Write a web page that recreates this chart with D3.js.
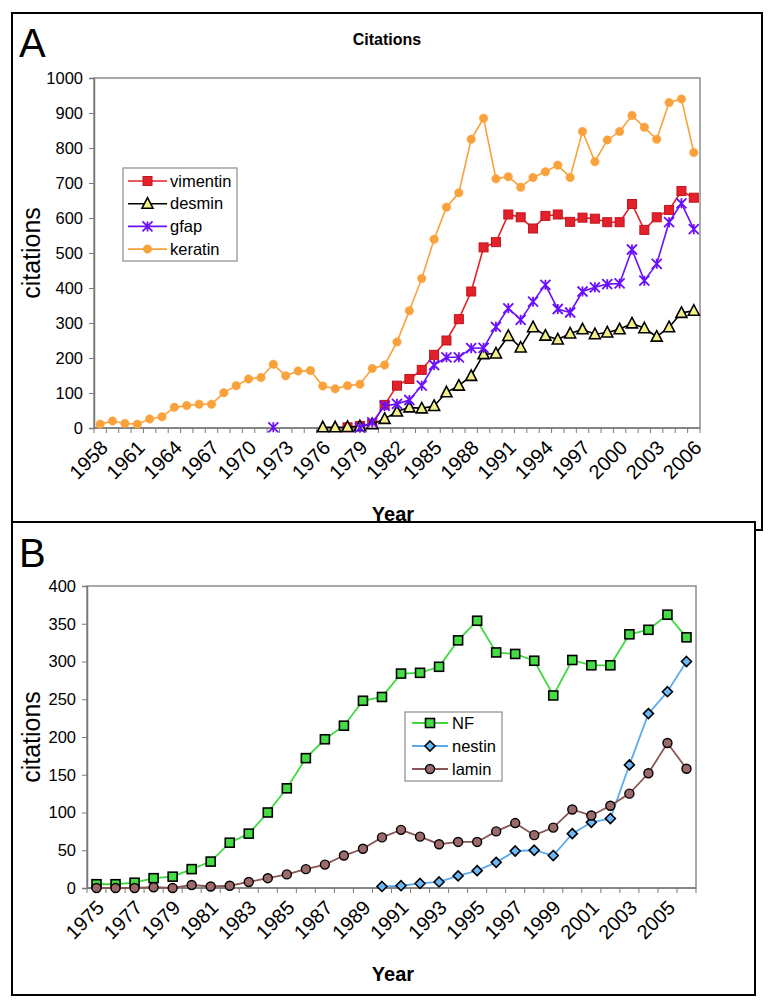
<!DOCTYPE html>
<html><head><meta charset="utf-8">
<script src="https://cdn.jsdelivr.net/npm/d3@7"></script>
<style>
html,body{margin:0;padding:0;background:#fff;}
svg text{font-family:"Liberation Sans",Arial,sans-serif;}
</style></head>
<body>
<svg id="c" width="771" height="1001"></svg>
<script>
// ---------- Panel A data ----------
const yearsA = [1958,1959,1960,1961,1962,1963,1964,1965,1966,1967,1968,1969,1970,1971,1972,1973,1974,1975,1976,1977,1978,1979,1980,1981,1982,1983,1984,1985,1986,1987,1988,1989,1990,1991,1992,1993,1994,1995,1996,1997,1998,1999,2000,2001,2002,2003,2004,2005,2006];
const tickLabelsA = ["1958","1961","1964","1967","1970","1973","1976","1979","1982","1985","1988","1991","1994","1997","2000","2003","2006"];
const yTicksA = [0,100,200,300,400,500,600,700,800,900,1000];
const N = null;
const vimentin = [N,N,N,N,N,N,N,N,N,N, N,N,N,N,N,N,N,N,N,N, 2,6,12,66,121,140,166,209,250,311, 390,516,531,610,602,570,606,610,589,601, 598,588,588,640,566,602,623,677,658];
const desmin = [N,N,N,N,N,N,N,N,N,N, N,N,N,N,N,N,N,N,2,2, 3,5,11,26,47,59,56,63,102,121, 149,211,213,263,230,288,264,253,270,282, 268,273,282,299,285,261,288,329,335];
const gfap = [N,N,N,N,N,N,N,N,N,N, N,N,N,N,2,N,N,N,N,N, N,1,16,63,69,80,121,180,202,202, 228,229,289,342,309,361,409,340,330,390, 402,411,413,510,421,469,588,642,568];
const keratin = [11,20,13,11,26,32,59,64,68,68, 101,121,140,144,182,149,163,164,120,112, 121,125,170,180,246,335,427,539,631,672, 825,885,712,718,688,716,732,751,716,847, 761,823,847,893,859,825,930,940,787];
const seriesNamesA = ["vimentin","desmin","gfap","keratin"];

// ---------- Panel B data ----------
const yearsB = [1975,1976,1977,1978,1979,1980,1981,1982,1983,1984,1985,1986,1987,1988,1989,1990,1991,1992,1993,1994,1995,1996,1997,1998,1999,2000,2001,2002,2003,2004,2005,2006];
const tickLabelsB = ["1975","1977","1979","1981","1983","1985","1987","1989","1991","1993","1995","1997","1999","2001","2003","2005"];
const yTicksB = [0,50,100,150,200,250,300,350,400];
const NF = [5,5,7,13,15,25,35,60,72,100, 132,172,197,215,248,253,284,285,293,328, 354,312,310,301,255,302,295,295,336,342, 362,332];
const nestin = [N,N,N,N,N,N,N,N,N,N, N,N,N,N,N,2,3,6,8,16, 23,34,49,50,43,72,87,92,163,231, 260,300];
const lamin = [0,0,0,1,0,4,2,3,8,13, 18,25,31,43,52,67,77,68,58,61, 61,75,86,70,80,104,96,109,125,152, 192,158];
const seriesNamesB = ["NF","nestin","lamin"];

const svg = d3.select("#c");
const FONT = '"Liberation Sans",Arial,sans-serif';

function marker(g, type, style, size){
  const s = size;
  if(type==="square"){
    g.append("rect").attr("x",-s/2).attr("y",-s/2).attr("width",s).attr("height",s)
      .attr("fill",style.fill).attr("stroke",style.stroke).attr("stroke-width",style.sw);
  } else if(type==="triangle"){
    g.append("path").attr("d",`M0,${-s*0.6}L${s*0.55},${s*0.45}L${-s*0.55},${s*0.45}Z`)
      .attr("fill",style.fill).attr("stroke",style.stroke).attr("stroke-width",style.sw);
  } else if(type==="star"){
    const h=s/2;
    g.append("path").attr("d",`M${-h},${-h}L${h},${h}M${-h},${h}L${h},${-h}M0,${-h}L0,${h}`)
      .attr("fill","none").attr("stroke",style.stroke).attr("stroke-width",style.sw);
  } else if(type==="circle"){
    g.append("circle").attr("r",s/2).attr("fill",style.fill).attr("stroke",style.stroke).attr("stroke-width",style.sw);
  } else if(type==="diamond"){
    const h=s/2+0.5;
    g.append("path").attr("d",`M0,${-h}L${h},0L0,${h}L${-h},0Z`)
      .attr("fill",style.fill).attr("stroke",style.stroke).attr("stroke-width",style.sw);
  }
}

function panel(cfg){
  const g = svg.append("g");
  g.append("rect").attr("x",cfg.frame[0]).attr("y",cfg.frame[1])
    .attr("width",cfg.frame[2]-cfg.frame[0]).attr("height",cfg.frame[3]-cfg.frame[1])
    .attr("fill","#fff").attr("stroke","#000").attr("stroke-width",2);
  const x = d3.scaleBand().domain(cfg.years).range([cfg.x0,cfg.x1]).padding(0);
  const y = d3.scaleLinear().domain([0,cfg.ymax]).range([cfg.yb,cfg.yt]);
  const bw = x.bandwidth();
  const cx = d => x(d)+bw/2;
  g.append("rect").attr("x",cfg.x0).attr("y",cfg.yt).attr("width",cfg.x1-cfg.x0).attr("height",cfg.yb-cfg.yt)
    .attr("fill","none").attr("stroke","#8c8c8c").attr("stroke-width",1.5);
  const ya = d3.axisLeft(y).tickValues(cfg.yTicks).tickSize(5).tickPadding(6).tickFormat(d3.format("d"));
  const yg = g.append("g").attr("transform",`translate(${cfg.x0},0)`).call(ya);
  yg.select(".domain").attr("stroke","#7a7a7a").attr("stroke-width",1.5);
  yg.selectAll(".tick line").attr("stroke","#7a7a7a");
  yg.selectAll("text").attr("font-size",16.5).attr("fill","#000").style("font-family",FONT);
  g.append("line").attr("x1",cfg.x0).attr("x2",cfg.x1).attr("y1",cfg.yb).attr("y2",cfg.yb)
    .attr("stroke","#7a7a7a").attr("stroke-width",1.5);
  const bounds = cfg.years.map(d=>x(d)).concat([x(cfg.years[cfg.years.length-1])+bw]);
  g.selectAll(".xt").data(bounds).enter().append("line")
    .attr("x1",d=>d).attr("x2",d=>d).attr("y1",cfg.yb).attr("y2",cfg.yb+5)
    .attr("stroke","#7a7a7a").attr("stroke-width",1);
  g.selectAll(".xl").data(cfg.tickLabels).enter().append("text")
    .attr("transform",d=>`translate(${cx(+d)+4},${cfg.yb+16}) rotate(-45)`)
    .attr("text-anchor","end").attr("dy","0.35em").attr("font-size",20).text(d=>d);
  g.append("text").attr("x",cfg.yearX).attr("y",cfg.yearY).attr("text-anchor","middle")
    .attr("font-size",20).attr("font-weight","bold").text("Year");
  g.append("text").attr("transform",`translate(${cfg.ylabX},${(cfg.yt+cfg.yb)/2}) rotate(-90)`)
    .attr("text-anchor","middle").attr("font-size",25).text("citations");
  g.append("text").attr("x",cfg.frame[0]+7).attr("y",cfg.letterY).attr("font-size",40).text(cfg.letter);
  cfg.series.forEach(s=>{
    const pts = cfg.years.map((yr,i)=>({yr, v:s.values[i]}));
    const line = d3.line().defined(d=>d.v!==null).x(d=>cx(d.yr)).y(d=>y(d.v));
    g.append("path").datum(pts).attr("d",line).attr("fill","none")
      .attr("stroke",s.line).attr("stroke-width",s.lw);
    pts.filter(d=>d.v!==null).forEach(d=>{
      const mg = g.append("g").attr("transform",`translate(${cx(d.yr)},${y(d.v)})`);
      marker(mg, s.type, s.style, s.size);
    });
  });
  const L = cfg.legend;
  g.append("rect").attr("x",L.x).attr("y",L.y).attr("width",L.w).attr("height",L.h)
    .attr("fill","#fff").attr("stroke","#8c8c8c").attr("stroke-width",1.2);
  cfg.series.forEach((s,i)=>{
    const yy = L.y0 + i*L.dy;
    g.append("line").attr("x1",L.lx0).attr("x2",L.lx1).attr("y1",yy).attr("y2",yy)
      .attr("stroke",s.line).attr("stroke-width",s.lw);
    const mg = g.append("g").attr("transform",`translate(${(L.lx0+L.lx1)/2},${yy})`);
    marker(mg, s.type, s.style, s.size);
    g.append("text").attr("x",L.tx).attr("y",yy).attr("dy","0.35em").attr("font-size",16.5).text(s.name);
  });
  return g;
}

const colorsA = {vimentin:"#e3212b", desmin:"#000000", gfap:"#6a10ff", keratin:"#f9a23c"};
panel({
  frame:[12,13,762,530], x0:94, x1:700, yt:78, yb:428, ymax:1000,
  years:yearsA, tickLabels:tickLabelsA, yTicks:yTicksA,
  yearX:393, yearY:521, ylabX:40, letter:"A", letterY:57,
  legend:{x:123,y:168,w:114,h:93,y0:181,dy:22.7,lx0:128,lx1:167,tx:170},
  series:[
    {name:seriesNamesA[0], values:vimentin, line:colorsA.vimentin, lw:1.6, type:"square", size:9, style:{fill:"#e3212b",stroke:"#c0141e",sw:1}},
    {name:seriesNamesA[1], values:desmin, line:colorsA.desmin, lw:1.6, type:"triangle", size:10, style:{fill:"#f3f08a",stroke:"#000",sw:1.6}},
    {name:seriesNamesA[2], values:gfap, line:colorsA.gfap, lw:1.6, type:"star", size:10, style:{stroke:colorsA.gfap,sw:1.8}},
    {name:seriesNamesA[3], values:keratin, line:colorsA.keratin, lw:1.6, type:"circle", size:8.5, style:{fill:"#f9a23c",stroke:"#f9a23c",sw:0.5}}
  ]
});
svg.append("text").attr("x",387).attr("y",45).attr("text-anchor","middle")
  .attr("font-size",16).attr("font-weight","bold").text("Citations");

panel({
  frame:[12,522,755,995], x0:87, x1:696, yt:586, yb:888, ymax:400,
  years:yearsB, tickLabels:tickLabelsB, yTicks:yTicksB,
  yearX:393, yearY:981, ylabX:40, letter:"B", letterY:567,
  legend:{x:405,y:712,w:97,h:69,y0:723,dy:23,lx0:412,lx1:448,tx:452},
  series:[
    {name:seriesNamesB[0], values:NF, line:"#3fd83f", lw:1.8, type:"square", size:9, style:{fill:"#44dd44",stroke:"#000",sw:1.6}},
    {name:seriesNamesB[1], values:nestin, line:"#5aaaf0", lw:1.8, type:"diamond", size:9, style:{fill:"#6db8f7",stroke:"#000",sw:1.6}},
    {name:seriesNamesB[2], values:lamin, line:"#8a5656", lw:1.8, type:"circle", size:9, style:{fill:"#9c6a6a",stroke:"#000",sw:1.4}}
  ]
});
</script>
</body></html>
